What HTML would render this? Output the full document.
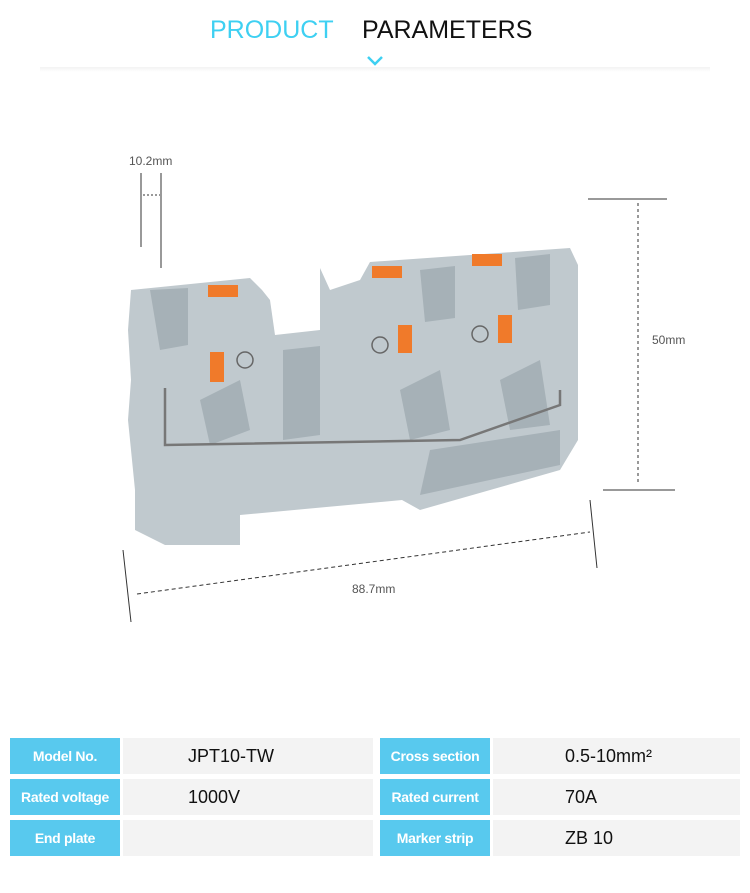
<!DOCTYPE html>
<html><head><meta charset="utf-8"><style>
body{margin:0;width:750px;height:893px;background:#fff;font-family:"Liberation Sans",sans-serif;position:relative;overflow:hidden}
.t{position:absolute;top:16px;font-size:25px}
.cell{position:absolute;height:36px;display:flex;align-items:center;font-size:18px}
.lb{background:#58c9ee;color:#fff;font-size:14px;font-weight:bold;justify-content:center;width:110px;letter-spacing:-0.3px}
.vl{background:#f3f3f3;color:#111}
</style></head><body>
<div class="t" style="left:210px;color:#3ed0f2">PRODUCT</div>
<div class="t" style="left:362px;color:#111">PARAMETERS</div>
<div style="position:absolute;left:40px;top:67px;width:670px;height:5px;background:linear-gradient(#f3f3f3,#fff)"></div>
<svg width="750" height="893" style="position:absolute;left:0;top:0">
<polyline points="368,57 375,64 382,57" fill="none" stroke="#3ed0f2" stroke-width="2.5"/>
<g stroke="#333" stroke-width="1" fill="none">
<line x1="141" y1="173" x2="141" y2="247"/><line x1="161" y1="173" x2="161" y2="268"/>
<line x1="143" y1="195" x2="160" y2="195" stroke-dasharray="2,2"/>
<line x1="588" y1="199" x2="667" y2="199"/><line x1="638" y1="203" x2="638" y2="485" stroke-dasharray="3,3"/>
<line x1="603" y1="490" x2="675" y2="490"/>
<line x1="137" y1="594" x2="590" y2="532" stroke-dasharray="4,3"/>
<line x1="123" y1="550" x2="131" y2="622"/><line x1="590" y1="500" x2="597" y2="568"/>
</g>
<text x="129" y="165" font-size="12" fill="#555" font-family="Liberation Sans">10.2mm</text>
<text x="652" y="344" font-size="12" fill="#555" font-family="Liberation Sans">50mm</text>
<text x="352" y="593" font-size="12" fill="#555" font-family="Liberation Sans">88.7mm</text>
<g fill="#c0c9ce">
<polygon points="131,290 250,278 262,290 270,300 275,335 320,330 320,268 330,290 360,280 370,262 570,248 578,265 578,440 560,470 420,510 402,500 240,515 240,545 165,545 135,530 135,490 128,420 131,380 128,330"/>
</g>
<g fill="#a6b1b7">
<polygon points="150,290 188,288 188,345 160,350"/>
<polygon points="420,270 455,266 455,318 425,322"/>
<polygon points="515,258 550,254 550,305 518,310"/>
<polygon points="283,350 320,346 320,435 283,440"/>
<polygon points="200,400 240,380 250,430 210,445"/>
<polygon points="400,390 440,370 450,430 410,440"/>
<polygon points="500,380 540,360 550,425 510,430"/>
<polygon points="430,450 560,430 560,465 420,495"/>
</g>
<polyline points="165,388 165,445 460,440 560,405 560,390" fill="none" stroke="#777" stroke-width="2.5"/>
<g fill="#f07a2a">
<rect x="208" y="285" width="30" height="12"/><rect x="372" y="266" width="30" height="12"/><rect x="472" y="254" width="30" height="12"/>
<rect x="210" y="352" width="14" height="30"/><rect x="398" y="325" width="14" height="28"/><rect x="498" y="315" width="14" height="28"/>
</g>
<g fill="none" stroke="#666" stroke-width="1.5">
<circle cx="245" cy="360" r="8"/><circle cx="380" cy="345" r="8"/><circle cx="480" cy="334" r="8"/>
</g>
</svg>
<div class="cell lb" style="left:10px;top:738px">Model No.</div>
<div class="cell vl" style="left:123px;top:738px;width:250px"><span style="margin-left:65px">JPT10-TW</span></div>
<div class="cell lb" style="left:380px;top:738px">Cross section</div>
<div class="cell vl" style="left:493px;top:738px;width:247px"><span style="margin-left:72px">0.5-10mm²</span></div>
<div class="cell lb" style="left:10px;top:779px">Rated voltage</div>
<div class="cell vl" style="left:123px;top:779px;width:250px"><span style="margin-left:65px">1000V</span></div>
<div class="cell lb" style="left:380px;top:779px">Rated current</div>
<div class="cell vl" style="left:493px;top:779px;width:247px"><span style="margin-left:72px">70A</span></div>
<div class="cell lb" style="left:10px;top:820px">End plate</div>
<div class="cell vl" style="left:123px;top:820px;width:250px"></div>
<div class="cell lb" style="left:380px;top:820px">Marker strip</div>
<div class="cell vl" style="left:493px;top:820px;width:247px"><span style="margin-left:72px">ZB 10</span></div>
</body></html>
